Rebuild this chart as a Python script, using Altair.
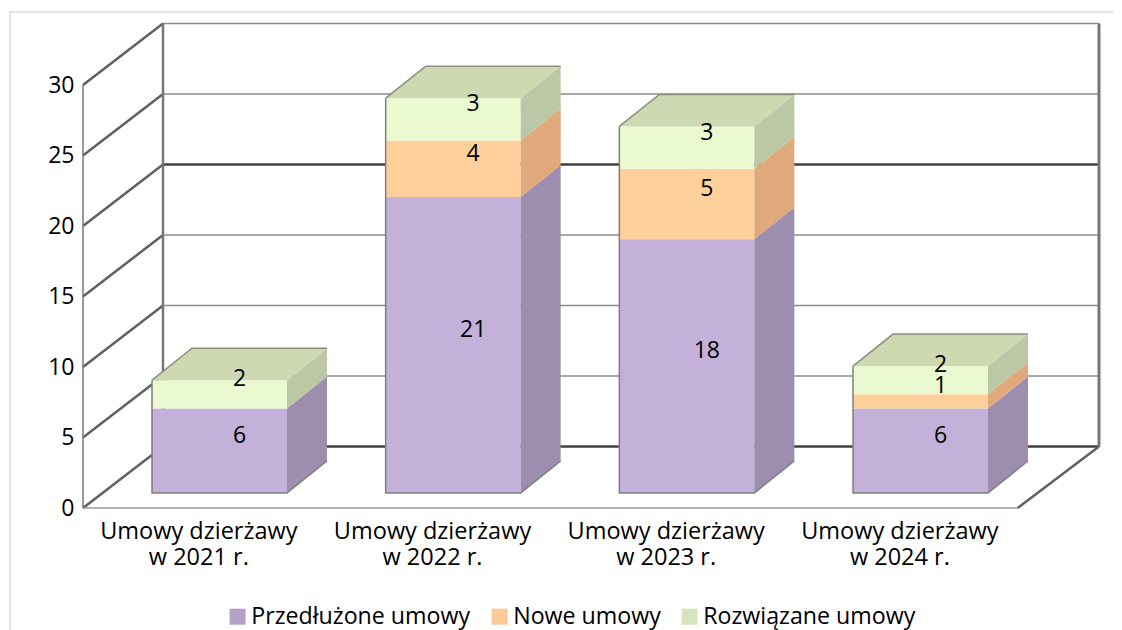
import altair as alt
import pandas as pd

categories = ["Umowy dzierżawy\nw 2021 r.", "Umowy dzierżawy\nw 2022 r.", "Umowy dzierżawy\nw 2023 r.", "Umowy dzierżawy\nw 2024 r."]
series_names = ["Przedłużone umowy", "Nowe umowy", "Rozwiązane umowy"]
przedluzone = [6, 21, 18, 6]
nowe = [0, 4, 5, 1]
rozwiazane = [2, 3, 3, 2]
y_ticks = [0, 5, 10, 15, 20, 25, 30]

front_colors = ["#C3B1DA", "#FFD09B", "#EAF9CF"]
side_colors = ["#9D8DAF", "#DFA97C", "#BCC8A5"]
top_color = "#CED9B2"
legend_colors = ["#B3A2C7", "#FCC998", "#D7E4BD"]
FONT = "Open Sans"

W, H = 1016, 484
PX_X = 233.67
PX_Y = 14.1
wall_dx, wall_dy = 80 / PX_X, 61.5 / PX_Y
bar_dx, bar_dy = 40 / PX_X, 32 / PX_Y
bar_left, bar_w, bar_base = 69 / PX_X, 135 / PX_X, 15 / PX_Y
x_scale = alt.Scale(domain=[0, W / PX_X], nice=False, zero=False)
y_scale = alt.Scale(domain=[0, H / PX_Y], nice=False, zero=False)
X = lambda f="x": alt.X(f"{f}:Q", scale=x_scale, title=None)
Y = lambda f="y": alt.Y(f"{f}:Q", scale=y_scale, title=None)


def poly_line(points, color, width):
    rows = [{"x": a, "y": b, "o": i} for i, (a, b) in enumerate(points)]
    return alt.Chart(pd.DataFrame(rows)).mark_line(color=color, strokeWidth=width, clip=False).encode(
        x=X(), y=Y(), order="o:Q")


layers = []

# invisible layer that carries the real axes
cat_centers = [i + 0.5 - 1.5 / PX_X for i in range(len(categories))]
lab_expr = "[" + ",".join(
    "[" + ",".join(f"'{p}'" for p in c.split("\n")) + "]" for c in categories
) + "][floor(datum.value)]"
axis_df = pd.DataFrame({"x": cat_centers, "y": [0] * 4})
layers.append(alt.Chart(axis_df).mark_point(opacity=0, size=1).encode(
    x=alt.X("x:Q", scale=x_scale, title=None, axis=alt.Axis(
        values=cat_centers, labelExpr=lab_expr, domain=False, ticks=False, grid=False,
        labelFont=FONT, labelFontSize=23.5, labelColor="#000000", labelPadding=11, labelLineHeight=26,
        labelLimit=400, labelFlush=False, labelOverlap=False, labelBaseline="top")),
    y=alt.Y("y:Q", scale=y_scale, title=None, axis=alt.Axis(
        values=y_ticks, domain=False, ticks=False, grid=False, labelFont=FONT, labelFontSize=23,
        labelColor="#000000", labelPadding=9)),
))

# outer light frame
FR_X, FR_Y = -73 / PX_X, (508 - 12) / PX_Y
layers.append(poly_line([(FR_X, (508 - 630) / PX_Y), (FR_X, FR_Y), (1039 / PX_X, FR_Y)], "#DDDDDD", 1.5))

# back wall grid
back_right = W / PX_X
for v in y_ticks:
    strong = v in (0, 20)
    layers.append(poly_line([(wall_dx, v + wall_dy), (back_right, v + wall_dy)],
                            "#404040" if strong else "#8C8C8C", 2.5 if strong else 1.5))
    layers.append(poly_line([(0, v), (wall_dx, v + wall_dy)], "#606060", 2.5))
layers.append(poly_line([(wall_dx, wall_dy), (wall_dx, 30 + wall_dy)], "#777777", 2.5))
layers.append(poly_line([(back_right, wall_dy), (back_right, 30 + wall_dy)], "#777777", 3))
layers.append(poly_line([(0, 0), (0, 30)], "#777777", 1.5))
layers.append(poly_line([(0, 0), (4, 0)], "#9A9A9A", 1.5))
layers.append(poly_line([(4, 0), (back_right, wall_dy)], "#606060", 2.5))

# bars
series_values = [przedluzone, nowe, rozwiazane]
labels = []
for i in range(len(categories)):
    x0 = i + bar_left
    x1 = x0 + bar_w
    base = bar_base
    for s, vals in enumerate(series_values):
        v = vals[i]
        if v == 0:
            continue
        lo, hi = base, base + v
        layers.append(alt.Chart(pd.DataFrame({"x": [x0], "x2": [x1], "y": [lo], "y2": [hi]})).mark_rect(
            color=front_colors[s]).encode(x=X(), x2="x2:Q", y=Y(), y2="y2:Q"))
        side = pd.DataFrame({"x": [x1, x1 + bar_dx], "y": [lo, lo + bar_dy], "y2": [hi, hi + bar_dy]})
        layers.append(alt.Chart(side).mark_area(color=side_colors[s]).encode(x=X(), y=Y(), y2="y2:Q"))
        labels.append({"x": x0 + bar_w / 2 + bar_dx / 2, "y": (lo + hi) / 2 + bar_dy / 2, "t": str(v)})
        base = hi
    top = pd.DataFrame({
        "x": [x0, x0 + bar_dx, x1, x1 + bar_dx],
        "y": [base, base, base, base + bar_dy],
        "y2": [base, base + bar_dy, base + bar_dy, base + bar_dy],
    })
    layers.append(alt.Chart(top).mark_area(color=top_color).encode(x=X(), y=Y(), y2="y2:Q"))
    layers.append(poly_line([(x0, base), (x0, bar_base), (x1, bar_base), (x1 + bar_dx, bar_base + bar_dy)], "#7F7F7F", 1.5))
    layers.append(poly_line([(x0, base), (x0 + bar_dx, base + bar_dy), (x1 + bar_dx, base + bar_dy)], "#8A8F80", 1.5))

layers.append(alt.Chart(pd.DataFrame(labels)).mark_text(
    font=FONT, fontSize=23, color="#000000", baseline="middle", align="center", dy=1
).encode(x=X(), y=Y(), text="t:N"))

# legend carrier
leg_df = pd.DataFrame({"x": [0] * 3, "y": [0] * 3, "s": series_names})
layers.append(alt.Chart(leg_df).mark_point(shape="square", filled=True, size=0, opacity=1).encode(
    x=X(), y=Y(),
    color=alt.Color("s:N", scale=alt.Scale(domain=series_names, range=legend_colors), title=None,
                    legend=alt.Legend(orient="none", legendX=143, legendY=581, direction="horizontal",
                                      columns=3, symbolType="square", symbolSize=256, symbolOpacity=1,
                                      symbolStrokeWidth=0, labelFont=FONT, labelFontSize=23.2, labelColor="#000000",
                                      labelLimit=400, columnPadding=17, labelOffset=2, padding=0)),
))

chart = alt.layer(*layers).properties(
    width=W, height=H, autosize=alt.AutoSizeParams(type="none"),
    padding={"left": 75, "top": 16, "right": 15, "bottom": 126},
    background="#FFFFFF",
).configure_view(stroke=None)

chart.save("out.html", embed_options={"renderer": "svg", "actions": False})
